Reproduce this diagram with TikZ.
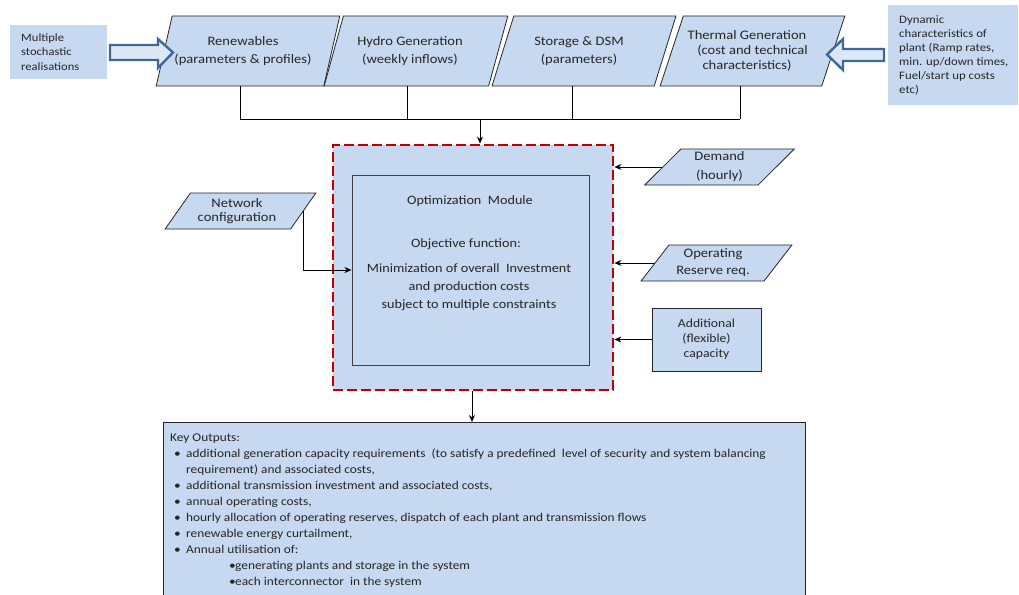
\documentclass[tikz,border=0pt]{standalone}
\usepackage{fontspec}
\setmainfont[FakeStretch=1.12]{Carlito}
\usetikzlibrary{shapes.geometric,arrows.meta}
\definecolor{fillblue}{HTML}{C6D9F1}
\definecolor{arrowblue}{HTML}{3F6797}
\definecolor{dashred}{HTML}{C00000}
\definecolor{txt}{HTML}{262626}
% \lft{len}{text}: a line whose visible text sits len/2 left of the centre
\newcommand{\lft}[2]{#2\hspace*{#1}}
\tikzset{
  para/.style={trapezium, trapezium stretches=true, draw=black!85, line width=0.8pt,
    fill=fillblue, text=txt, align=center, inner sep=0pt},
  infobox/.style={fill=fillblue, text=txt, inner sep=0pt},
  flat/.style={draw=black!85, line width=0.8pt, fill=fillblue, text=txt, align=center, inner sep=0pt},
  label text/.style={text=txt, align=center, inner sep=0pt},
  wire/.style={draw=black, line width=0.8pt},
  feed/.style={wire, -{Stealth[length=7pt,width=6pt]}},
  fatarrow/.style={draw=arrowblue, line width=2.4pt, fill=fillblue!60!white, line join=miter},
  big/.style={font=\fontsize{13}{18}\selectfont},
  toprow/.style={para, trapezium left angle=62, trapezium right angle=118,
    minimum width=184pt, minimum height=70pt},
}
\begin{document}
\begin{tikzpicture}[x=1pt,y=-1pt]
\useasboundingbox (0,0) rectangle (1019,594);

% input side boxes
\node[infobox, minimum width=97pt, minimum height=54pt] (stoch) at (58.5,52) {};
\node[text=txt, align=left, anchor=west, inner sep=0pt, font=\fontsize{11.2}{14.5}\selectfont]
  (stochtxt) at (21,52) {Multiple\\stochastic\\realisations};
\node[infobox, minimum width=130pt, minimum height=100pt] (dyn) at (953,55) {};
\node[text=txt, align=left, anchor=west, inner sep=0pt, font=\fontsize{11.4}{14}\selectfont]
  (dyntxt) at (899,55) {Dynamic\\characteristics of\\plant (Ramp rates,\\min. up/down times,\\Fuel/start up costs\\etc)};

% top row of data sources
\node[toprow, big] (ren) at (248,51) {\lft{10pt}{Renewables}\\\lft{10pt}{(parameters \& profiles)}};
\node[toprow, big] (hyd) at (416,51) {\lft{12pt}{Hydro Generation}\\\lft{12pt}{(weekly inflows)}};
\node[toprow, big] (sto) at (584,51) {\lft{10pt}{Storage \& DSM}\\\lft{10pt}{(parameters)}};
\node[toprow, minimum width=185pt, font=\fontsize{13}{15}\selectfont] (the) at (752.5,51)
  {\lft{11pt}{Thermal Generation}\\\lft{11pt}{(cost and technical}\\\lft{11pt}{characteristics)}};

% block arrows feeding the top row
\path[fatarrow] (110,45) -- (158,45) -- (158,39) -- (173,52.5) -- (158,68) -- (158,60) -- (110,60) -- cycle;
\path[fatarrow] (884,49) -- (843,49) -- (843,39) -- (827,54.5) -- (843,70) -- (843,61) -- (884,61) -- cycle;

% optimisation module
\node[fill=fillblue, draw=dashred, line width=2.8pt, dash pattern=on 10pt off 4pt,
  minimum width=280pt, minimum height=245pt, inner sep=0pt] (opt) at (473,267.5) {};
\node[flat, draw=black!75, line width=1pt, minimum width=237pt, minimum height=190pt] (core) at (470.5,270) {};
\node[label text, font=\fontsize{12.7}{18}\selectfont] (title) at (470,201) {Optimization\ \ Module};
\node[label text, font=\fontsize{12.7}{18}\selectfont] (objf) at (466,244) {Objective function:};
\node[label text, font=\fontsize{12.7}{18}\selectfont] (objtxt) at (469,287)
  {Minimization of overall\ \ Investment\\and production costs\\subject to multiple constraints};

% side inputs
\node[para, font=\fontsize{13}{14.5}\selectfont, trapezium left angle=50, trapezium right angle=130,
  minimum width=151pt, minimum height=36pt] (net) at (240.5,211) {\lft{7pt}{Network}\\\lft{7pt}{configuration}};
\node[para, font=\fontsize{13}{19}\selectfont, trapezium left angle=52, trapezium right angle=128,
  minimum width=151pt, minimum height=36pt] (dem) at (719.5,167) {Demand\\(hourly)};
\node[para, font=\fontsize{13}{17}\selectfont, trapezium left angle=50, trapezium right angle=130,
  minimum width=151pt, minimum height=36pt] (res) at (716.5,263) {\lft{7pt}{Operating}\\\lft{7pt}{Reserve req.}};
\node[flat, font=\fontsize{12.2}{15}\selectfont, minimum width=109pt, minimum height=63pt] (add) at (706.5,339.5)
  {Additional\\(flexible)\\capacity};

% outputs
\node[flat, anchor=north west, minimum width=642pt, minimum height=200pt] (key) at (163,422) {};
\node[text=txt, align=left, anchor=north west, inner sep=0pt, font=\fontsize{11.9}{16}\selectfont]
  (keytxt) at (170,434) {Key Outputs:\\
  \hspace*{4pt}\makebox[12pt][l]{\textbullet}additional generation capacity requirements\ \ (to satisfy a predefined\ \ level of security and system balancing\\
  \hspace*{16pt}requirement) and associated costs,\\
  \hspace*{4pt}\makebox[12pt][l]{\textbullet}additional transmission investment and associated costs,\\
  \hspace*{4pt}\makebox[12pt][l]{\textbullet}annual operating costs,\\
  \hspace*{4pt}\makebox[12pt][l]{\textbullet}hourly allocation of operating reserves, dispatch of each plant and transmission flows\\
  \hspace*{4pt}\makebox[12pt][l]{\textbullet}renewable energy curtailment,\\
  \hspace*{4pt}\makebox[12pt][l]{\textbullet}Annual utilisation of:\\
  \hspace*{59pt}\makebox[6pt][l]{\textbullet}generating plants and storage in the system\\
  \hspace*{59pt}\makebox[6pt][l]{\textbullet}each interconnector\ \ in the system};

% collecting bus from the top row
\coordinate (busL) at (240,119);
\coordinate (busR) at (740,119);
\coordinate (busIn) at (480,119);
\draw[wire] ([xshift=-8pt]ren.south) -- ([xshift=-8pt]ren.south |- busL);
\draw[wire] ([xshift=-9pt]hyd.south) -- ([xshift=-9pt]hyd.south |- busL);
\draw[wire] ([xshift=-12pt]sto.south) -- ([xshift=-12pt]sto.south |- busL);
\draw[wire] ([xshift=-12.5pt]the.south) -- ([xshift=-12.5pt]the.south |- busL);
\draw[wire] (busL) -- (busR);
\draw[feed] (busIn) -- (busIn |- opt.north);

% connectors into and out of the module
\draw[feed] (net.east) |- (core.west);
\draw[feed] (dem.west) -- (dem.west -| opt.east);
\draw[feed] (res.west) -- (res.west -| opt.east);
\draw[feed] (add.west) -- (add.west -| opt.east);
\draw[feed] ([xshift=-1pt]opt.south) -- ([xshift=-1pt]opt.south |- key.north);
\end{tikzpicture}
\end{document}
